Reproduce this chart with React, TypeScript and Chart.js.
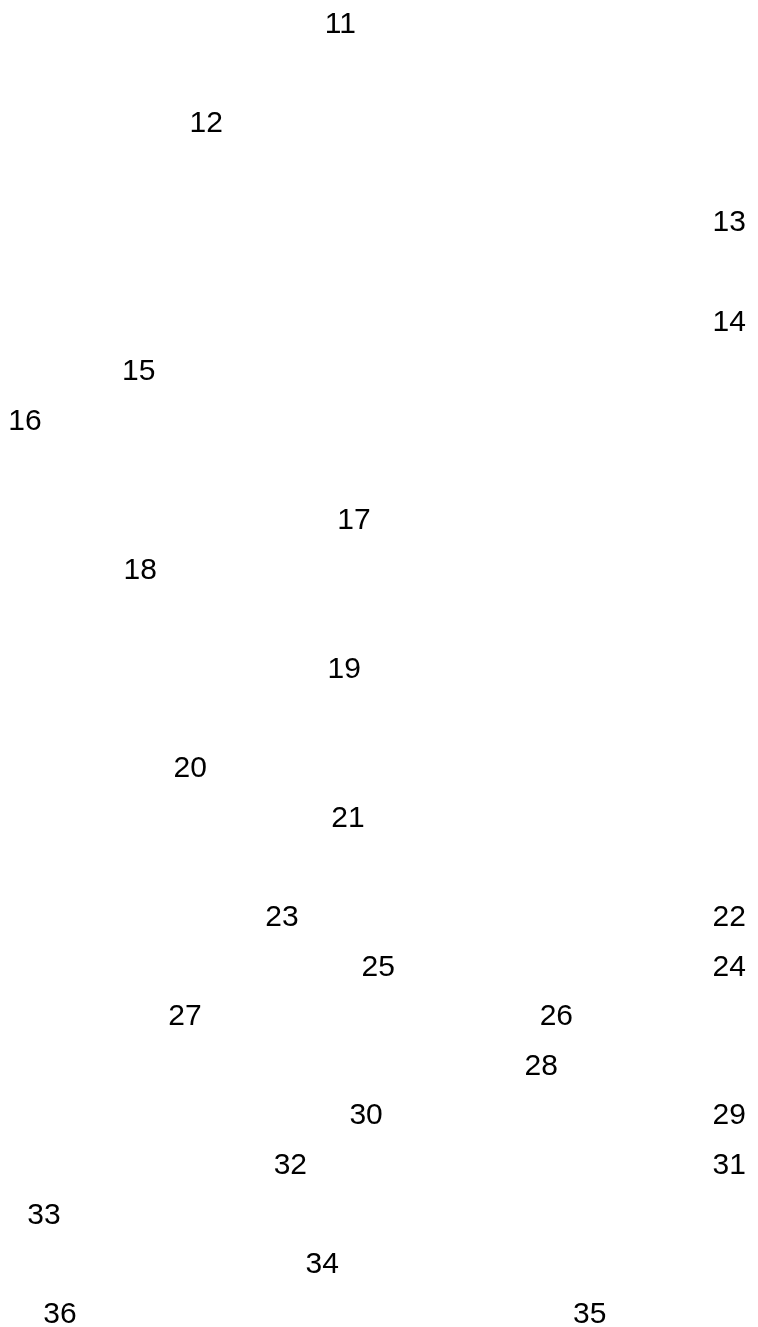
import React, { useEffect, useRef } from "react";
import { Chart, registerables } from "chart.js";

Chart.register(...registerables);

// Label text for each point
const pointLabels: string[] = [
  "11", "12", "13", "14", "15", "16", "17", "18", "19", "20",
  "21", "22", "23", "24", "25", "26", "27", "28", "29", "30",
  "31", "32", "33", "34", "35", "36",
];

// Horizontal position (0–100 scale)
const xValues: number[] = [
  44.9, 27.2, 96.2, 96.2, 18.3, 3.3, 46.7, 18.5, 45.4, 25.1,
  45.9, 96.2, 37.2, 96.2, 49.9, 73.4, 24.4, 71.4, 96.2, 48.3,
  96.2, 38.3, 5.8, 42.5, 77.8, 7.9,
];

// Vertical row index (0 at top)
const yValues: number[] = [
  0, 2, 4, 6, 7, 8, 10, 11, 13, 15,
  16, 18, 18, 19, 19, 20, 20, 21, 22, 22,
  23, 23, 24, 25, 26, 26,
];

const FONT_SIZE = 30;
const FONT_FAMILY = '"Liberation Sans", Arial, sans-serif';

const labelPlugin = {
  id: "pointTextLabels",
  afterDatasetsDraw(chart: any) {
    const ctx = chart.ctx;
    const meta = chart.getDatasetMeta(0);
    ctx.save();
    ctx.font = `${FONT_SIZE}px ${FONT_FAMILY}`;
    ctx.fillStyle = "#000000";
    ctx.textAlign = "center";
    ctx.textBaseline = "alphabetic";
    meta.data.forEach((el: any, i: number) => {
      ctx.fillText(pointLabels[i], el.x, el.y + FONT_SIZE * 0.358);
    });
    ctx.restore();
  },
};

export default function App() {
  const canvasRef = useRef<HTMLCanvasElement | null>(null);

  useEffect(() => {
    if (!canvasRef.current) return;
    const data = xValues.map((x, i) => ({ x, y: yValues[i] }));
    const chart = new Chart(canvasRef.current, {
      type: "scatter",
      data: {
        datasets: [
          {
            data,
            pointRadius: 0,
            pointHoverRadius: 0,
            backgroundColor: "rgba(0,0,0,0)",
            borderColor: "rgba(0,0,0,0)",
          },
        ],
      },
      options: {
        responsive: false,
        animation: false,
        layout: { padding: 0 },
        plugins: {
          legend: { display: false },
          tooltip: { enabled: false },
        },
        scales: {
          x: { type: "linear", min: 0, max: 100, display: false },
          y: { type: "linear", min: -0.45, max: 26.3, reverse: true, display: false },
        },
      },
      plugins: [labelPlugin],
    });
    return () => chart.destroy();
  }, []);

  return (
    <div style={{ position: "absolute", left: 0, top: 0, width: 758, height: 1327, background: "#ffffff" }}>
      <canvas ref={canvasRef} width={758} height={1327} />
    </div>
  );
}
